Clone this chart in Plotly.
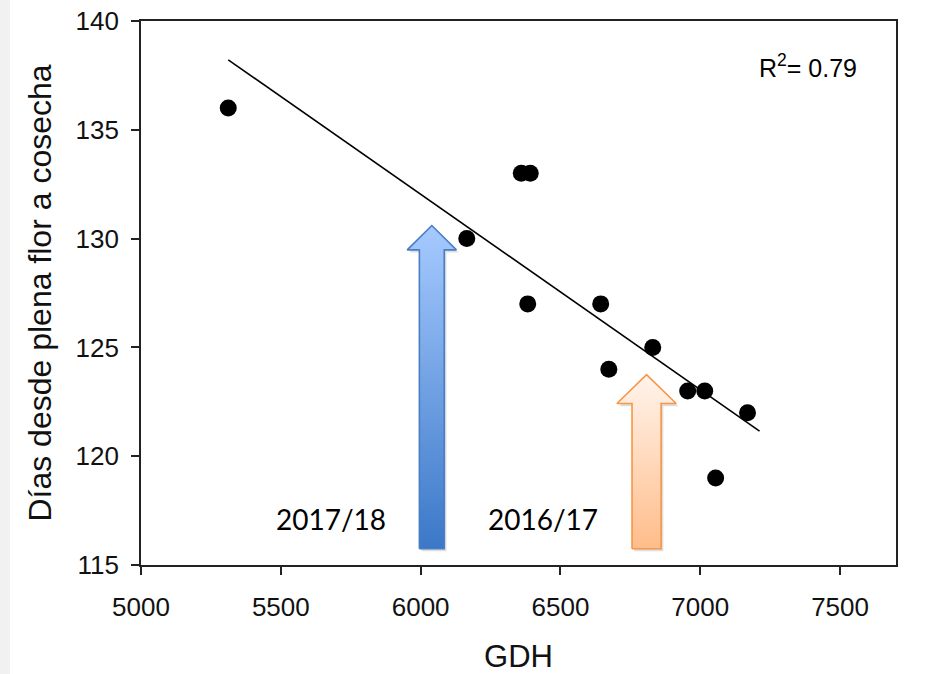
import numpy as np
import plotly.graph_objects as go

# Growing degree hours accumulated per season and days from full bloom to harvest
gdh = [5312, 6165, 6360, 6392, 6383, 6644, 6673, 6830, 6955, 7016, 7169, 7055]
days = [136, 130, 133, 133, 127, 127, 124, 125, 123, 123, 122, 119]

x_ticks = [5000, 5500, 6000, 6500, 7000, 7500]
y_ticks = [115, 120, 125, 130, 135, 140]

# Season markers: label, GDH position of the arrow, arrow tip (days)
season_labels = ["2017/18", "2016/17"]
season_arrow_gdh = [6040, 6808]
season_arrow_tip = [130.6, 123.75]
season_label_gdh = [5680, 6437]

# Linear fit of days on GDH
slope, intercept = np.polyfit(gdh, days, 1)
pred = np.polyval([slope, intercept], gdh)
ss_res = float(np.sum((np.array(days) - pred) ** 2))
ss_tot = float(np.sum((np.array(days) - np.mean(days)) ** 2))
r2 = 1 - ss_res / ss_tot
fit_x = np.array([min(gdh), max(gdh) + 43])
fit_y = slope * fit_x + intercept

FONT = "Liberation Sans, Arial, sans-serif"
LABEL_FONT = "Lato, Open Sans, sans-serif"

fig = go.Figure()


def arrow_polygon(cx, base, tip, shaft_half, head_half, head_len):
    xs = [cx - shaft_half, cx - shaft_half, cx - head_half, cx, cx + head_half,
          cx + shaft_half, cx + shaft_half, cx - shaft_half]
    ys = [base, tip - head_len, tip - head_len, tip, tip - head_len,
          tip - head_len, base, base]
    return xs, ys


arrow_styles = [
    dict(shaft=44.5, head=88, head_len=1.12, line="#4a7ec4",
         scale=[[0, "#3b78c8"], [1, "#a6caff"]]),
    dict(shaft=52, head=106, head_len=1.33, line="#f79646",
         scale=[[0, "#ffbd8a"], [1, "#fff4ec"]]),
]

arrow_base = 115.75
for cx, tip, st in zip(season_arrow_gdh, season_arrow_tip, arrow_styles):
    # soft drop shadow
    sx, sy = arrow_polygon(cx + 8, arrow_base - 0.12, tip - 0.12,
                           st["shaft"], st["head"], st["head_len"])
    fig.add_trace(go.Scatter(x=sx, y=sy, mode="lines", fill="toself",
                             fillcolor="rgba(0,0,0,0.13)",
                             line=dict(width=0), hoverinfo="skip",
                             showlegend=False))
    ax, ay = arrow_polygon(cx, arrow_base, tip, st["shaft"], st["head"],
                           st["head_len"])
    fig.add_trace(go.Scatter(x=ax, y=ay, mode="lines", fill="toself",
                             fillgradient=dict(type="vertical",
                                               colorscale=st["scale"]),
                             line=dict(color=st["line"], width=1.6),
                             hoverinfo="skip", showlegend=False))

# Regression line
fig.add_trace(go.Scatter(x=fit_x, y=fit_y, mode="lines",
                         line=dict(color="black", width=1.6),
                         showlegend=False, hoverinfo="skip"))

# Observations
fig.add_trace(go.Scatter(x=gdh, y=days, mode="markers",
                         marker=dict(color="black", size=17),
                         showlegend=False))

for lab, lx in zip(season_labels, season_label_gdh):
    fig.add_annotation(x=lx, y=117.1, text=lab, showarrow=False,
                       font=dict(family=LABEL_FONT, size=28, color="black"))

fig.add_annotation(x=0.951, y=0.917, xref="paper", yref="paper",
                   xanchor="right", yanchor="middle",
                   text=f"R<sup>2</sup>= {r2:.2f}", showarrow=False,
                   font=dict(family=FONT, size=25, color="black"))

axis_common = dict(showgrid=False, zeroline=False, showline=True,
                   linecolor="#222222", linewidth=1.6, mirror=True,
                   ticks="outside", ticklen=8, tickwidth=1.5,
                   tickcolor="#222222", automargin=False,
                   tickfont=dict(family=FONT, size=26, color="#111111"))

fig.update_xaxes(range=[5000, 7700], tickvals=x_ticks,
                 ticktext=[str(v) for v in x_ticks],
                 title=dict(text="GDH", font=dict(family=FONT, size=31,
                                                   color="#111111"),
                            standoff=34),
                 ticklabelstandoff=10, **axis_common)
fig.update_yaxes(range=[115, 140], tickvals=y_ticks,
                 ticktext=[str(v) for v in y_ticks],
                 title=dict(text="Días desde plena flor a cosecha",
                            font=dict(family=FONT, size=32, color="#111111"),
                            standoff=14),
                 ticklabelstandoff=7, **axis_common)

fig.update_layout(width=930, height=674,
                  margin=dict(l=141, r=34, t=21, b=109, pad=0),
                  paper_bgcolor="white", plot_bgcolor="white")

fig.add_shape(type="rect", xref="paper", yref="paper", x0=-141 / 755,
              x1=-131 / 755, y0=-109 / 544, y1=1 + 21 / 544,
              fillcolor="#f1f1f1", line=dict(width=0), layer="below")

fig.write_html("out.html")
